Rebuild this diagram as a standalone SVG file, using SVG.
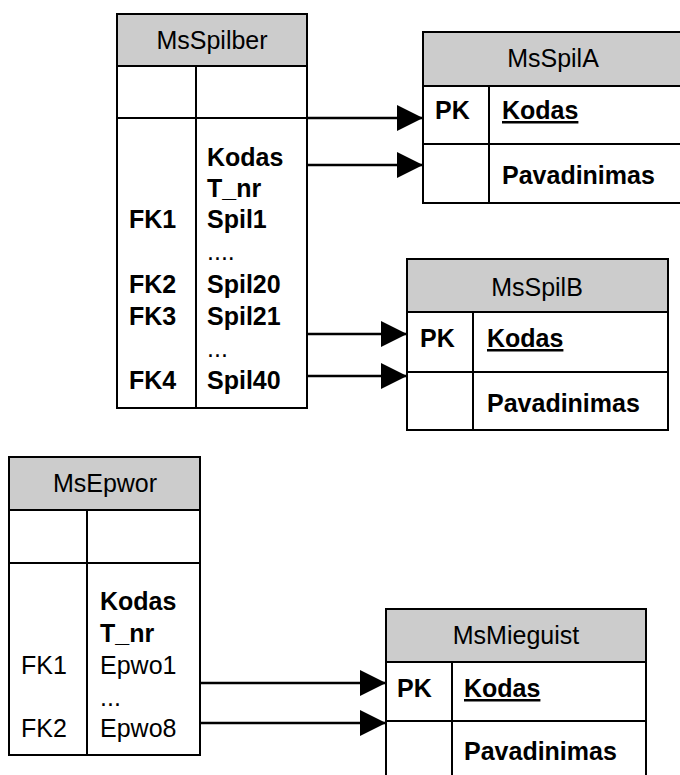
<svg xmlns="http://www.w3.org/2000/svg" width="680" height="775" viewBox="0 0 680 775">
  <style>
    .box { fill: #ffffff; stroke: #000000; stroke-width: 2; }
    .head { fill: #cccccc; stroke: #000000; stroke-width: 2; }
    .rule { stroke: #000000; stroke-width: 2; fill: none; }
    .title { font-family: "Liberation Sans", Arial, sans-serif; font-size: 25px; fill: #000000; text-anchor: middle; }
    .b { font-family: "Liberation Sans", Arial, sans-serif; font-size: 25px; font-weight: bold; fill: #000000; }
    .r { font-family: "Liberation Sans", Arial, sans-serif; font-size: 25px; fill: #000000; }
    .link { stroke: #000000; stroke-width: 2.5; fill: none; marker-end: url(#arrow); }
  </style>
  <defs>
    <marker id="arrow" markerUnits="userSpaceOnUse" markerWidth="27" markerHeight="26" refX="26" refY="13" orient="auto">
      <path d="M0,0 L26,13 L0,26 Z" fill="#000000"/>
    </marker>
  </defs>

  <!-- MsSpilber -->
  <g id="MsSpilber">
    <rect class="box" x="117" y="14" width="190" height="394"/>
    <rect class="head" x="117" y="14" width="190" height="52"/>
    <line class="rule" x1="196" y1="66" x2="196" y2="408"/>
    <line class="rule" x1="117" y1="118" x2="307" y2="118"/>
    <text class="title" x="212" y="49">MsSpilber</text>
    <text class="b" x="207" y="166">Kodas</text>
    <text class="b" x="207" y="197">T_nr</text>
    <text class="b" x="129" y="228">FK1</text>
    <text class="b" x="207" y="228">Spil1</text>
    <text class="r" x="207" y="260">....</text>
    <text class="b" x="129" y="293">FK2</text>
    <text class="b" x="207" y="293">Spil20</text>
    <text class="b" x="129" y="325">FK3</text>
    <text class="b" x="207" y="325">Spil21</text>
    <text class="r" x="207" y="357">...</text>
    <text class="b" x="129" y="389">FK4</text>
    <text class="b" x="207" y="389">Spil40</text>
  </g>

  <!-- MsSpilA -->
  <g id="MsSpilA">
    <rect class="box" x="423" y="32" width="260" height="171"/>
    <rect class="head" x="423" y="32" width="260" height="54"/>
    <line class="rule" x1="489" y1="86" x2="489" y2="203"/>
    <line class="rule" x1="423" y1="144" x2="683" y2="144"/>
    <text class="title" x="553" y="67">MsSpilA</text>
    <text class="b" x="435" y="119">PK</text>
    <text class="b" x="502" y="119" text-decoration="underline">Kodas</text>
    <text class="b" x="502" y="184">Pavadinimas</text>
  </g>

  <!-- MsSpilB -->
  <g id="MsSpilB">
    <rect class="box" x="407" y="259" width="261" height="171"/>
    <rect class="head" x="407" y="259" width="261" height="53"/>
    <line class="rule" x1="473" y1="312" x2="473" y2="430"/>
    <line class="rule" x1="407" y1="372" x2="668" y2="372"/>
    <text class="title" x="537" y="296">MsSpilB</text>
    <text class="b" x="420" y="347">PK</text>
    <text class="b" x="487" y="347" text-decoration="underline">Kodas</text>
    <text class="b" x="487" y="412">Pavadinimas</text>
  </g>

  <!-- MsEpwor -->
  <g id="MsEpwor">
    <rect class="box" x="9" y="457" width="191" height="298"/>
    <rect class="head" x="9" y="457" width="191" height="53"/>
    <line class="rule" x1="87" y1="510" x2="87" y2="755"/>
    <line class="rule" x1="9" y1="563" x2="200" y2="563"/>
    <text class="title" x="105" y="492">MsEpwor</text>
    <text class="b" x="100" y="610">Kodas</text>
    <text class="b" x="100" y="642">T_nr</text>
    <text class="r" x="21" y="674">FK1</text>
    <text class="r" x="100" y="674">Epwo1</text>
    <text class="r" x="100" y="706">...</text>
    <text class="r" x="21" y="737">FK2</text>
    <text class="r" x="100" y="737">Epwo8</text>
  </g>

  <!-- MsMieguist -->
  <g id="MsMieguist">
    <rect class="box" x="386" y="609" width="260" height="180"/>
    <rect class="head" x="386" y="609" width="260" height="53"/>
    <line class="rule" x1="452" y1="662" x2="452" y2="789"/>
    <line class="rule" x1="386" y1="721" x2="646" y2="721"/>
    <text class="title" x="516" y="644">MsMieguist</text>
    <text class="b" x="397" y="697">PK</text>
    <text class="b" x="464" y="697" text-decoration="underline">Kodas</text>
    <text class="b" x="464" y="760">Pavadinimas</text>
  </g>

  <!-- foreign key links -->
  <g id="links">
    <line class="link" x1="307" y1="118" x2="423" y2="118"/>
    <line class="link" x1="307" y1="165" x2="423" y2="165"/>
    <line class="link" x1="307" y1="334" x2="407" y2="334"/>
    <line class="link" x1="307" y1="376" x2="407" y2="376"/>
    <line class="link" x1="200" y1="683" x2="386" y2="683"/>
    <line class="link" x1="200" y1="723" x2="386" y2="723"/>
  </g>
</svg>
